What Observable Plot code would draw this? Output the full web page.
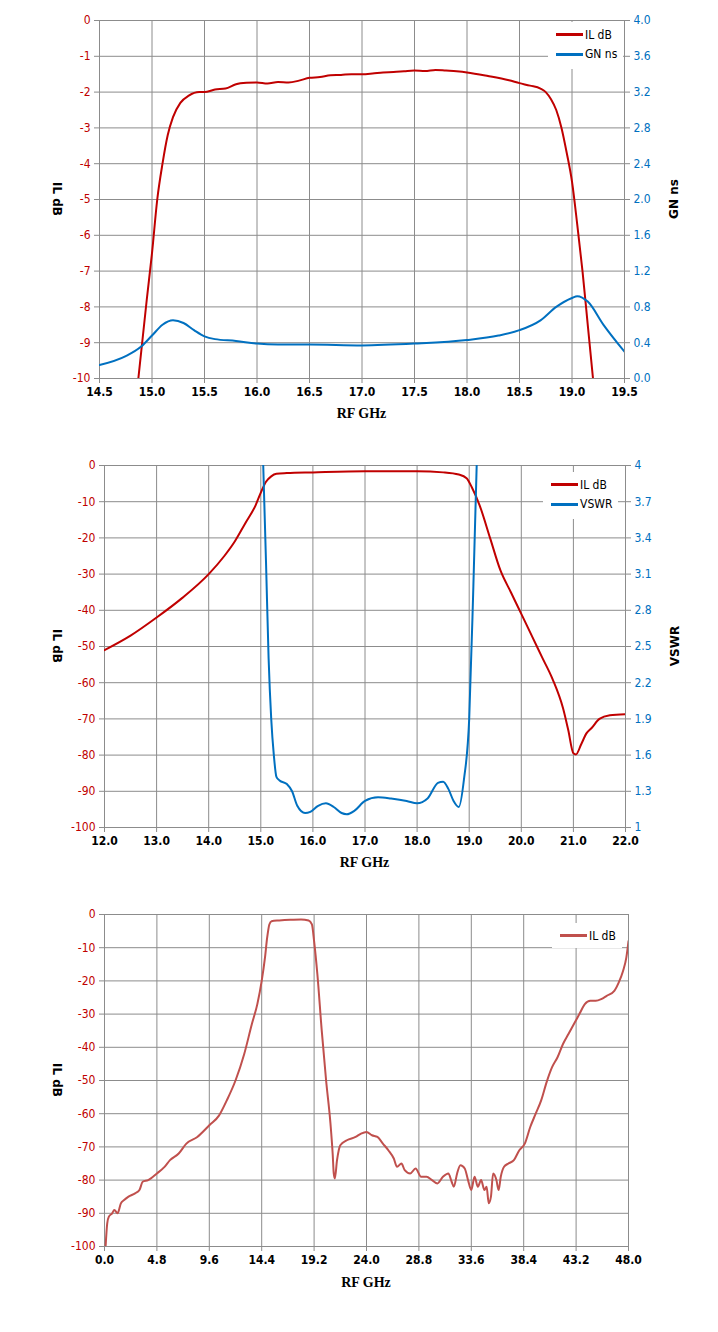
<!DOCTYPE html>
<html><head><meta charset="utf-8">
<script src="https://cdn.jsdelivr.net/npm/d3@7"></script>
<script src="https://cdn.jsdelivr.net/npm/@observablehq/plot@0.6"></script>
<style>
body{margin:0;background:#fff;font-family:"DejaVu Sans",sans-serif;}
.c{position:absolute;left:0;width:718px;}
.yl{position:absolute;font-weight:bold;font-size:12px;font-family:"DejaVu Sans",sans-serif;white-space:nowrap;}
.xl{position:absolute;font-weight:bold;font-size:14px;font-family:"Liberation Serif","DejaVu Serif",serif;transform:translateX(-50%);white-space:nowrap;}
.lg{position:absolute;background:#fff;font-size:12px;font-family:"DejaVu Sans Condensed","DejaVu Sans",sans-serif;}
.lg div{display:flex;align-items:center;height:17px;}
.lg span{display:inline-block;width:27px;height:3px;margin-right:2px;}
</style></head><body>
<script>
// Chart 1: 14.5–19.5 GHz
const c1IL_f=[14.87,14.95,15.0,15.05,15.1,15.15,15.2,15.27,15.35,15.45,15.5,15.6,15.7,15.8,15.9,16.0,16.1,16.2,16.3,16.4,16.5,16.6,16.7,16.8,16.9,17.0,17.1,17.2,17.3,17.4,17.5,17.6,17.7,17.8,17.9,18.0,18.2,18.4,18.5,18.6,18.7,18.75,18.8,18.85,18.9,18.95,19.0,19.05,19.1,19.15,19.2];
const c1IL_v=[-10,-7.8,-6.5,-5,-4,-3.2,-2.7,-2.3,-2.1,-2.0,-2.0,-1.93,-1.9,-1.78,-1.74,-1.73,-1.76,-1.72,-1.73,-1.68,-1.6,-1.58,-1.53,-1.52,-1.5,-1.5,-1.48,-1.45,-1.44,-1.42,-1.4,-1.41,-1.38,-1.4,-1.42,-1.45,-1.55,-1.67,-1.75,-1.82,-1.9,-2.0,-2.2,-2.5,-3.0,-3.7,-4.5,-5.7,-7.0,-8.5,-10];
const c1GN_f=[14.5,14.75,14.9,15.0,15.1,15.2,15.3,15.4,15.5,15.6,15.8,16.0,16.2,16.5,17.0,17.5,18.0,18.3,18.5,18.7,18.85,19.0,19.05,19.15,19.3,19.5];
const c1GN_v=[0.15,0.25,0.36,0.48,0.6,0.65,0.62,0.54,0.47,0.44,0.42,0.39,0.38,0.38,0.37,0.39,0.43,0.48,0.54,0.65,0.8,0.9,0.92,0.86,0.6,0.3];
const c1Xticks=[14.5,15,15.5,16,16.5,17,17.5,18,18.5,19,19.5];
const c1Yticks=[-10,-9,-8,-7,-6,-5,-4,-3,-2,-1,0];
// Chart 2: 12–22 GHz
const c2IL_f=[12,12.5,13,13.5,14,14.3,14.5,14.7,14.9,15.0,15.1,15.2,15.3,15.5,16,17,18,18.5,18.8,18.95,19.05,19.2,19.4,19.6,19.8,20.0,20.2,20.4,20.6,20.8,20.9,21.0,21.05,21.15,21.25,21.35,21.5,21.7,22];
const c2IL_v=[-51,-47,-42,-36.5,-30,-25,-21,-16,-11,-7.5,-4.5,-3,-2.3,-2.1,-1.9,-1.6,-1.6,-1.9,-2.5,-3.5,-6,-11,-20,-29,-35,-41,-47,-53,-59,-67,-73,-79.5,-79.8,-77,-74,-72.5,-70,-69,-68.7];
const c2VS_f=[15.04,15.1,15.15,15.2,15.25,15.3,15.36,15.5,15.6,15.7,15.85,15.95,16.1,16.25,16.4,16.55,16.65,16.8,17.0,17.25,17.5,17.8,18.0,18.2,18.4,18.5,18.6,18.7,18.8,18.9,19.0,19.08,19.15];
const c2VS_v=[4.1,3.2,2.4,1.9,1.6,1.42,1.39,1.36,1.3,1.18,1.12,1.13,1.18,1.2,1.17,1.12,1.11,1.14,1.22,1.25,1.24,1.22,1.2,1.24,1.37,1.38,1.32,1.22,1.17,1.4,1.9,3.0,4.1];
const c2Xticks=[12,13,14,15,16,17,18,19,20,21,22];
const c2Yticks=[-100,-90,-80,-70,-60,-50,-40,-30,-20,-10,0];
// Chart 3: 0–48 GHz
const c3IL_f=[0.1,0.25,0.4,0.7,0.9,1.2,1.5,1.8,2.2,2.8,3.2,3.5,4.0,4.8,5.5,6.0,6.8,7.5,8.5,9.6,10.5,11.2,12.0,12.8,13.5,14.0,14.4,14.7,14.9,15.1,15.3,16,17,18,18.7,19.0,19.2,19.5,19.9,20.3,20.7,20.9,21.0,21.1,21.3,21.6,22.2,23,23.5,24.0,24.5,25,25.5,26,26.5,26.8,27.2,27.5,28,28.5,29,29.5,30,30.5,31,31.5,31.8,32,32.3,32.6,33,33.3,33.6,33.9,34.2,34.5,34.8,35.0,35.2,35.4,35.6,35.9,36.1,36.3,36.6,37.0,37.5,38.0,38.5,39,39.5,40,40.5,41,41.5,42,42.5,43,43.5,44,44.5,45,45.5,46,46.7,47.1,47.5,47.8,48];
const c3IL_v=[-100,-93,-91,-90,-89,-90,-87,-86,-85,-84,-83,-80.5,-80,-78,-76,-74,-72,-69,-67,-63.5,-60.5,-56,-50,-42,-33,-27,-20,-13,-7,-3,-2,-1.8,-1.6,-1.5,-1.8,-3,-8,-18,-35,-50,-63,-72,-78,-79.5,-74,-69.5,-68,-67,-66,-65.5,-66.5,-67,-69,-71,-73.5,-76,-75,-77,-78,-76.5,-79,-79,-80,-81,-79,-78,-80.5,-82,-78,-75.5,-76.5,-80,-83,-79,-82,-80,-83,-82,-87,-85,-78,-80,-83,-79,-76,-75,-74,-71,-69,-64,-60,-56,-50.5,-46,-43,-39,-36,-33,-30,-27,-26,-26,-25.5,-24.5,-23,-20.5,-17,-13,-8];
const c3Xticks=[0,4.8,9.6,14.4,19.2,24,28.8,33.6,38.4,43.2,48];
const c3Yticks=c2Yticks;

const RED="#c00000", BLUE="#0070c0", RED3="#c0504d", GRID="#8c8c8c";
const zip=(f,v)=>f.map((x,i)=>({x,y:v[i]}));

function chart({top,height,mt,mb,ml,mr,xd,yd,xt,yt,series,right,legend,yLabel,rLabel,xlY}){
  const div=document.createElement("div");div.className="c";div.style.top=top+"px";div.style.height=height+"px";
  const marks=[
    Plot.ruleX(xt,{stroke:GRID,strokeWidth:1}),
    Plot.ruleY(yt,{stroke:GRID,strokeWidth:1}),
    Plot.axisX({ticks:xt,tickFormat:d3.format(".1f"),tickSize:5,fontWeight:"bold",fontSize:12,label:null,stroke:GRID,tickPadding:4}),
    Plot.axisY({ticks:yt,tickFormat:d=>String(d),tickSize:5,fill:RED,fontSize:12,label:null,stroke:GRID})
  ];
  if(right) marks.push(Plot.axisY({anchor:"right",ticks:yt,tickFormat:right.fmt,tickSize:5,fill:BLUE,fontSize:12,label:null,stroke:GRID}));
  for(const s of series) marks.push(Plot.line(s.data,{x:"x",y:"y",stroke:s.color,strokeWidth:2,curve:"monotone-x",clip:true}));
  const svg=Plot.plot({width:718,height,marginTop:mt,marginBottom:mb,marginLeft:ml,marginRight:mr,
    x:{domain:xd},y:{domain:yd},style:{fontFamily:"DejaVu Sans Condensed, DejaVu Sans",background:"transparent"},marks});
  div.appendChild(svg);
  const yl=document.createElement("div");yl.className="yl";yl.textContent=yLabel;
  yl.style.left="40px";yl.style.top=(mt+(height-mt-mb)/2-7)+"px";yl.style.transform="rotate(90deg)";div.appendChild(yl);
  if(rLabel){const r=document.createElement("div");r.className="yl";r.textContent=rLabel;r.style.left=(718-mr+30)+"px";
    r.style.top=(mt+(height-mt-mb)/2-7)+"px";r.style.transform="rotate(-90deg)";div.appendChild(r);}
  const xl=document.createElement("div");xl.className="xl";xl.textContent="RF GHz";
  xl.style.left=(ml+(718-ml-mr)/2)+"px";xl.style.top=xlY+"px";div.appendChild(xl);
  const lg=document.createElement("div");lg.className="lg";
  lg.style.left=legend.x+"px";lg.style.top=legend.y+"px";lg.style.padding="4px 6px 4px 8px";
  for(const s of series){const r=document.createElement("div");r.innerHTML=`<span style="background:${s.color}"></span>${s.name}`;lg.appendChild(r);}
  if(series.length>1) lg.children[1].style.height="22px";
  div.appendChild(lg);
  document.body.appendChild(div);
}

chart({top:0,height:440,mt:20,mb:62,ml:99,mr:94,xd:[14.5,19.5],yd:[-10,0],xt:c1Xticks,yt:c1Yticks,
  series:[{name:"IL dB",color:RED,data:zip(c1IL_f,c1IL_v)},{name:"GN ns",color:BLUE,data:zip(c1GN_f,c1GN_v.map(g=>g/0.4-10))}],
  right:{fmt:v=>((v+10)*0.4).toFixed(1)},legend:{x:548,y:22},yLabel:"IL dB",rLabel:"GN ns",xlY:406});
chart({top:440,height:450,mt:25,mb:63,ml:104,mr:93,xd:[12,22],yd:[-100,0],xt:c2Xticks,yt:c2Yticks,
  series:[{name:"IL dB",color:RED,data:zip(c2IL_f,c2IL_v)},{name:"VSWR",color:BLUE,data:zip(c2VS_f,c2VS_v.map(v=>(v-1)/3*100-100))}],
  right:{fmt:v=>String(+(1+(v+100)*0.03).toFixed(1))},legend:{x:543,y:32},yLabel:"IL dB",rLabel:"VSWR",xlY:415});
chart({top:890,height:442,mt:24,mb:86,ml:104,mr:90,xd:[0,48],yd:[-100,0],xt:c3Xticks,yt:c3Yticks,
  series:[{name:"IL dB",color:RED3,data:zip(c3IL_f,c3IL_v)}],
  legend:{x:552,y:33},yLabel:"IL dB",xlY:385});
</script></body></html>
